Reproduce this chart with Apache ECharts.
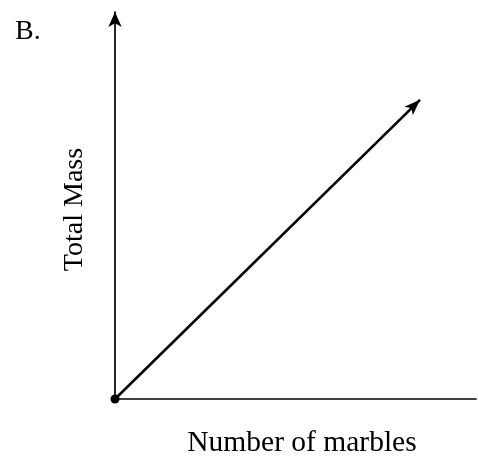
<!DOCTYPE html>
<html>
<head>
<meta charset="utf-8">
<script src="https://cdn.jsdelivr.net/npm/echarts@6/dist/echarts.min.js"></script>
<style>
  html, body { margin: 0; padding: 0; background: #fff; }
  #chart { width: 478px; height: 463px; }
</style>
</head>
<body>
<div id="chart"></div>
<script>
// Proportional relationship: total mass grows with the number of marbles
const panelLabel = 'B.';
const xAxisTitle = 'Number of marbles';
const yAxisTitle = 'Total Mass';
const marbleCounts = [0, 8.45];
const totalMasses = [0, 7.73];

const points = marbleCounts.map((x, i) => [x, totalMasses[i]]);
const serif = '"Liberation Serif", "DejaVu Serif", serif';

const chart = echarts.init(document.getElementById('chart'), null, { renderer: 'canvas' });
chart.setOption({
  animation: false,
  backgroundColor: '#ffffff',
  title: {
    text: panelLabel,
    left: 10,
    top: 13,
    textStyle: { fontFamily: serif, fontSize: 28, fontWeight: 'normal', color: '#000' }
  },
  grid: { left: 115, right: 2, top: 12, bottom: 59 },
  xAxis: {
    type: 'value',
    min: 0,
    max: 10,
    name: xAxisTitle,
    nameLocation: 'middle',
    nameGap: 29,
    nameTextStyle: { fontFamily: serif, fontSize: 29.5, color: '#000', padding: [0, 0, 0, 13] },
    axisLine: { show: true, lineStyle: { color: '#000', width: 1.7 } },
    axisTick: { show: false },
    axisLabel: { show: false },
    splitLine: { show: false }
  },
  yAxis: {
    type: 'value',
    min: 0,
    max: 10,
    name: yAxisTitle,
    nameLocation: 'middle',
    nameGap: 26,
    nameTextStyle: { fontFamily: serif, fontSize: 28, color: '#000', padding: [0, 8, 0, 0] },
    axisLine: {
      show: true,
      symbol: ['none', 'arrow'],
      symbolSize: [10, 15],
      lineStyle: { color: '#000', width: 1.7 }
    },
    axisTick: { show: false },
    axisLabel: { show: false },
    splitLine: { show: false }
  },
  series: [{
    type: 'line',
    data: [],
    silent: true,
    markLine: {
      silent: true,
      symbol: ['circle', 'arrow'],
      symbolSize: [9, 16],
      label: { show: false },
      lineStyle: { color: '#000', width: 2.6, type: 'solid' },
      data: [[
        { coord: points[0], itemStyle: { color: '#000' } },
        { coord: points[1], itemStyle: { color: '#000' } }
      ]]
    }
  }]
});
</script>
</body>
</html>
